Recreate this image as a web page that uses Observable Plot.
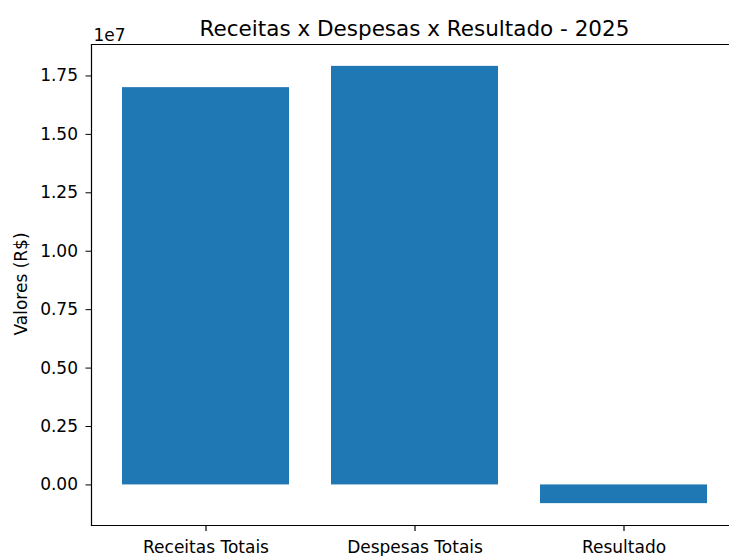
<!DOCTYPE html>
<html>
<head>
<meta charset="utf-8">
<script src="https://cdn.jsdelivr.net/npm/d3@7"></script>
<script src="https://cdn.jsdelivr.net/npm/@observablehq/plot@0.6"></script>
<style>
  html, body { margin: 0; padding: 0; background: #fff; }
  #chart svg { display: block; overflow: hidden; }
</style>
</head>
<body>
<div id="chart"></div>
<script>
const categories = ["Receitas Totais", "Despesas Totais", "Resultado"];
const values = [17000000, 17910000, -800000];
const yTicks = [0, 0.25e7, 0.5e7, 0.75e7, 1.0e7, 1.25e7, 1.5e7, 1.75e7];
const title = "Receitas x Despesas x Resultado - 2025";
const yLabel = "Valores (R$)";
const offsetText = "1e7";

const data = categories.map((c, i) => ({category: c, value: values[i]}));

const W = 729, H = 556;
const mL = 91, mT = 44, mB = 31;
const font = "DejaVu Sans, sans-serif";

const chart = Plot.plot({
  width: W,
  height: H,
  marginLeft: mL,
  marginRight: 0,
  marginTop: mT,
  marginBottom: mB,
  style: {fontFamily: font, fontSize: "17px", color: "#000", background: "#fff", overflow: "hidden"},
  x: {domain: categories, range: [mL, 737.5], paddingInner: 0.2, paddingOuter: 0.145, axis: null},
  y: {domain: [-0.1736e7, 1.8846e7], axis: null},
  marks: [
    Plot.barY(data, {x: "category", y: "value", fill: "#1f77b4"}),
    Plot.frame({anchor: "left", stroke: "#000", strokeWidth: 1.2}),
    Plot.frame({anchor: "bottom", stroke: "#000", strokeWidth: 1.2}),
    Plot.frame({anchor: "top", stroke: "#000", strokeWidth: 1.2}),
    Plot.axisY({
      ticks: yTicks,
      tickFormat: d => (d / 1e7).toFixed(2),
      tickSize: 5.5,
      tickPadding: 8,
      tickStrokeWidth: 1.2,
      label: null,
      fontSize: 17,
      fill: "#000",
      stroke: "#000"
    }),
    Plot.axisX({
      ticks: categories,
      tickSize: 6,
      tickPadding: 9,
      label: null,
      fontSize: 17,
      fill: "#000",
      stroke: "#000",
      strokeWidth: 1.2
    }),
    Plot.text([title], {
      frameAnchor: "top", dx: 4, dy: -9, lineAnchor: "bottom",
      fontSize: 21.5, fill: "#000", text: d => d
    }),
    Plot.text([offsetText], {
      frameAnchor: "top-left", dx: 2, dy: -4, lineAnchor: "bottom", textAnchor: "start",
      fontSize: 17, fill: "#000", text: d => d
    }),
    Plot.text([yLabel], {
      frameAnchor: "left", dx: -70, dy: -1, rotate: -90, textAnchor: "middle",
      fontSize: 17, fill: "#000", text: d => d
    })
  ]
});

document.getElementById("chart").appendChild(chart);
</script>
</body>
</html>
